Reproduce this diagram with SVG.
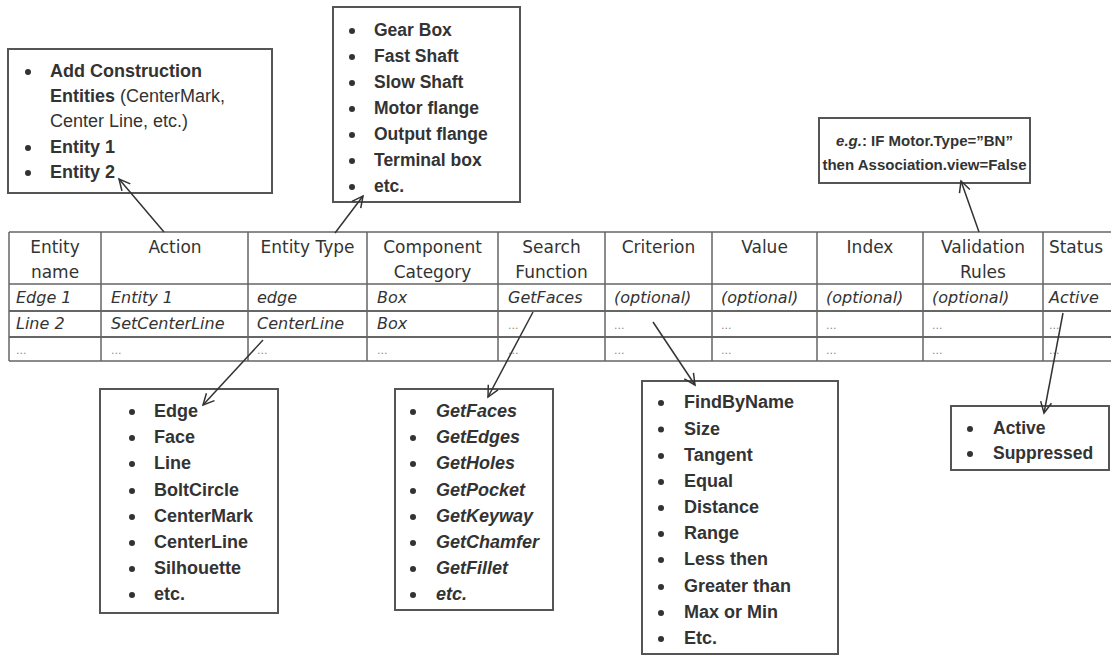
<svg xmlns="http://www.w3.org/2000/svg" width="1111" height="656" viewBox="0 0 1111 656">
  <style>
    .box { fill: #fff; stroke: #555; stroke-width: 2; }
    .li { font-family: "Liberation Sans", Arial, sans-serif; font-size: 18px; fill: #333; font-weight: bold; }
    .reg { font-weight: normal; }
    .it { font-style: italic; }
    .bul { fill: #333; }
    .grid { stroke: #666; stroke-width: 1.5; fill: none; }
    .grid2 { stroke: #666; stroke-width: 2.2; fill: none; }
    .hd { font-family: "DejaVu Sans", Verdana, sans-serif; font-size: 17px; fill: #333; text-anchor: middle; }
    .cell { font-family: "DejaVu Sans", Verdana, sans-serif; font-size: 16px; fill: #333; font-style: italic; }
    .dots { font-family: "DejaVu Sans", Verdana, sans-serif; font-size: 11px; fill: #888; }
    .conn { stroke: #333; stroke-width: 1.5; fill: none; marker-end: url(#arr); }
    .rule { font-family: "Liberation Sans", Arial, sans-serif; font-size: 15px; fill: #333; font-weight: bold; text-anchor: middle; }
  </style>
  <defs>
    <marker id="arr" markerWidth="14" markerHeight="14" refX="12" refY="7" orient="auto" markerUnits="userSpaceOnUse">
      <path d="M1,1.5 L12,7 L1,12.5" fill="none" stroke="#333" stroke-width="1.5"/>
    </marker>
  </defs>
  <rect width="1111" height="656" fill="#fff"/>

  <!-- attribute table -->
  <g id="table">
    <path class="grid" d="M9,232 H1111 M9,284 H1111 M9,361 H1111"/>
    <path class="grid2" d="M9,311 H1111 M9,337 H1111"/>
    <path class="grid" d="M9,232 V361 M101,232 V361 M248,232 V361 M367,232 V361 M498,232 V361 M605,232 V361 M712,232 V361 M817,232 V361 M923,232 V361 M1043,232 V361"/>
    <!-- header -->
    <text class="hd" x="55" y="253">Entity</text>
    <text class="hd" x="55" y="278">name</text>
    <text class="hd" x="175" y="253">Action</text>
    <text class="hd" x="307.5" y="253">Entity Type</text>
    <text class="hd" x="432.5" y="253">Component</text>
    <text class="hd" x="432.5" y="278">Category</text>
    <text class="hd" x="551.5" y="253">Search</text>
    <text class="hd" x="551.5" y="278">Function</text>
    <text class="hd" x="658.5" y="253">Criterion</text>
    <text class="hd" x="764.5" y="253">Value</text>
    <text class="hd" x="870" y="253">Index</text>
    <text class="hd" x="983" y="253">Validation</text>
    <text class="hd" x="983" y="278">Rules</text>
    <text class="hd" x="1076" y="253">Status</text>
    <!-- row 1 -->
    <text class="cell" x="16" y="303">Edge 1</text>
    <text class="cell" x="111" y="303">Entity 1</text>
    <text class="cell" x="257" y="303">edge</text>
    <text class="cell" x="377" y="303">Box</text>
    <text class="cell" x="508" y="303">GetFaces</text>
    <text class="cell" x="614" y="303">(optional)</text>
    <text class="cell" x="721" y="303">(optional)</text>
    <text class="cell" x="826" y="303">(optional)</text>
    <text class="cell" x="932" y="303">(optional)</text>
    <text class="cell" x="1049" y="303">Active</text>
    <!-- row 2 -->
    <text class="cell" x="16" y="329">Line 2</text>
    <text class="cell" x="111" y="329">SetCenterLine</text>
    <text class="cell" x="257" y="329">CenterLine</text>
    <text class="cell" x="377" y="329">Box</text>
    <text class="dots" x="508" y="329">...</text>
    <text class="dots" x="614" y="329">...</text>
    <text class="dots" x="721" y="329">...</text>
    <text class="dots" x="826" y="329">...</text>
    <text class="dots" x="932" y="329">...</text>
    <text class="dots" x="1049" y="329">...</text>
    <!-- row 3 -->
    <text class="dots" x="16" y="354">...</text>
    <text class="dots" x="111" y="354">...</text>
    <text class="dots" x="257" y="354">...</text>
    <text class="dots" x="377" y="354">...</text>
    <text class="dots" x="508" y="354">...</text>
    <text class="dots" x="614" y="354">...</text>
    <text class="dots" x="721" y="354">...</text>
    <text class="dots" x="826" y="354">...</text>
    <text class="dots" x="932" y="354">...</text>
    <text class="dots" x="1049" y="354">...</text>
  </g>

  <!-- action list -->
  <g id="actions">
    <rect class="box" x="8" y="49" width="264" height="144"/>
    <circle class="bul" cx="28" cy="72" r="3"/>
    <circle class="bul" cx="28" cy="148" r="3"/>
    <circle class="bul" cx="28" cy="173" r="3"/>
    <text class="li" x="50" y="77">Add Construction</text>
    <text class="li" x="50" y="102">Entities <tspan class="reg">(CenterMark,</tspan></text>
    <text class="li reg" x="50" y="127">Center Line,  etc.)</text>
    <text class="li" x="50" y="153">Entity 1</text>
    <text class="li" x="50" y="178">Entity 2</text>
  </g>

  <!-- component category list -->
  <g id="categories">
    <rect class="box" x="333" y="7" width="187" height="195"/>
    <g class="bul">
      <circle cx="352" cy="31" r="3"/>
      <circle cx="352" cy="57" r="3"/>
      <circle cx="352" cy="83" r="3"/>
      <circle cx="352" cy="109" r="3"/>
      <circle cx="352" cy="135" r="3"/>
      <circle cx="352" cy="161" r="3"/>
      <circle cx="352" cy="187" r="3"/>
    </g>
    <text class="li" style="font-size:17.5px" x="374" y="36">Gear Box</text>
    <text class="li" style="font-size:17.5px" x="374" y="62">Fast Shaft</text>
    <text class="li" style="font-size:17.5px" x="374" y="88">Slow Shaft</text>
    <text class="li" style="font-size:17.5px" x="374" y="114">Motor flange</text>
    <text class="li" style="font-size:17.5px" x="374" y="140">Output flange</text>
    <text class="li" style="font-size:17.5px" x="374" y="166">Terminal box</text>
    <text class="li" style="font-size:17.5px" x="374" y="192">etc.</text>
  </g>

  <!-- validation rule example -->
  <g id="rules">
    <rect class="box" x="819" y="118" width="211" height="65"/>
    <text class="rule" x="924.5" y="146"><tspan class="it">e.g.</tspan>: IF Motor.Type=”BN”</text>
    <text class="rule" x="924.5" y="170">then Association.view=False</text>
  </g>

  <!-- entity type list -->
  <g id="entity-types">
    <rect class="box" x="100" y="389" width="178" height="224"/>
    <g class="bul">
      <circle cx="132" cy="412" r="3"/>
      <circle cx="132" cy="438" r="3"/>
      <circle cx="132" cy="464" r="3"/>
      <circle cx="132" cy="491" r="3"/>
      <circle cx="132" cy="517" r="3"/>
      <circle cx="132" cy="543" r="3"/>
      <circle cx="132" cy="569" r="3"/>
      <circle cx="132" cy="595" r="3"/>
    </g>
    <text class="li" x="154" y="417">Edge</text>
    <text class="li" x="154" y="443">Face</text>
    <text class="li" x="154" y="469">Line</text>
    <text class="li" x="154" y="496">BoltCircle</text>
    <text class="li" x="154" y="522">CenterMark</text>
    <text class="li" x="154" y="548">CenterLine</text>
    <text class="li" x="154" y="574">Silhouette</text>
    <text class="li" x="154" y="600">etc.</text>
  </g>

  <!-- search function list -->
  <g id="search-functions">
    <rect class="box" x="395" y="389" width="158" height="221"/>
    <g class="bul">
      <circle cx="413" cy="412" r="3"/>
      <circle cx="413" cy="438" r="3"/>
      <circle cx="413" cy="464" r="3"/>
      <circle cx="413" cy="491" r="3"/>
      <circle cx="413" cy="517" r="3"/>
      <circle cx="413" cy="543" r="3"/>
      <circle cx="413" cy="569" r="3"/>
      <circle cx="413" cy="595" r="3"/>
    </g>
    <text class="li it" x="436" y="417">GetFaces</text>
    <text class="li it" x="436" y="443">GetEdges</text>
    <text class="li it" x="436" y="469">GetHoles</text>
    <text class="li it" x="436" y="496">GetPocket</text>
    <text class="li it" x="436" y="522">GetKeyway</text>
    <text class="li it" x="436" y="548">GetChamfer</text>
    <text class="li it" x="436" y="574">GetFillet</text>
    <text class="li it" x="436" y="600">etc.</text>
  </g>

  <!-- criterion list -->
  <g id="criteria">
    <rect class="box" x="642" y="381" width="196" height="273"/>
    <g class="bul">
      <circle cx="661" cy="403" r="3"/>
      <circle cx="661" cy="429.5" r="3"/>
      <circle cx="661" cy="456" r="3"/>
      <circle cx="661" cy="482" r="3"/>
      <circle cx="661" cy="508" r="3"/>
      <circle cx="661" cy="534" r="3"/>
      <circle cx="661" cy="560" r="3"/>
      <circle cx="661" cy="587" r="3"/>
      <circle cx="661" cy="613" r="3"/>
      <circle cx="661" cy="639" r="3"/>
    </g>
    <text class="li" x="684" y="408">FindByName</text>
    <text class="li" x="684" y="434.5">Size</text>
    <text class="li" x="684" y="461">Tangent</text>
    <text class="li" x="684" y="487">Equal</text>
    <text class="li" x="684" y="513">Distance</text>
    <text class="li" x="684" y="539">Range</text>
    <text class="li" x="684" y="565">Less then</text>
    <text class="li" x="684" y="592">Greater than</text>
    <text class="li" x="684" y="618">Max or Min</text>
    <text class="li" x="684" y="644">Etc.</text>
  </g>

  <!-- status list -->
  <g id="statuses">
    <rect class="box" x="951" y="406" width="158" height="64"/>
    <circle class="bul" cx="970" cy="429" r="3"/>
    <circle class="bul" cx="970" cy="454" r="3"/>
    <text class="li" style="font-size:17.5px" x="993" y="434">Active</text>
    <text class="li" style="font-size:17.5px" x="993" y="459">Suppressed</text>
  </g>

  <!-- connectors -->
  <g id="connectors">
    <line class="conn" x1="164" y1="232" x2="119" y2="179"/>
    <line class="conn" x1="335" y1="233" x2="363" y2="196"/>
    <line class="conn" x1="979" y1="232" x2="961" y2="181"/>
    <line class="conn" x1="263" y1="340" x2="203" y2="405"/>
    <line class="conn" x1="533" y1="312" x2="488" y2="397"/>
    <line class="conn" x1="653" y1="322" x2="695" y2="385"/>
    <line class="conn" x1="1063" y1="313" x2="1044" y2="413"/>
  </g>
</svg>
